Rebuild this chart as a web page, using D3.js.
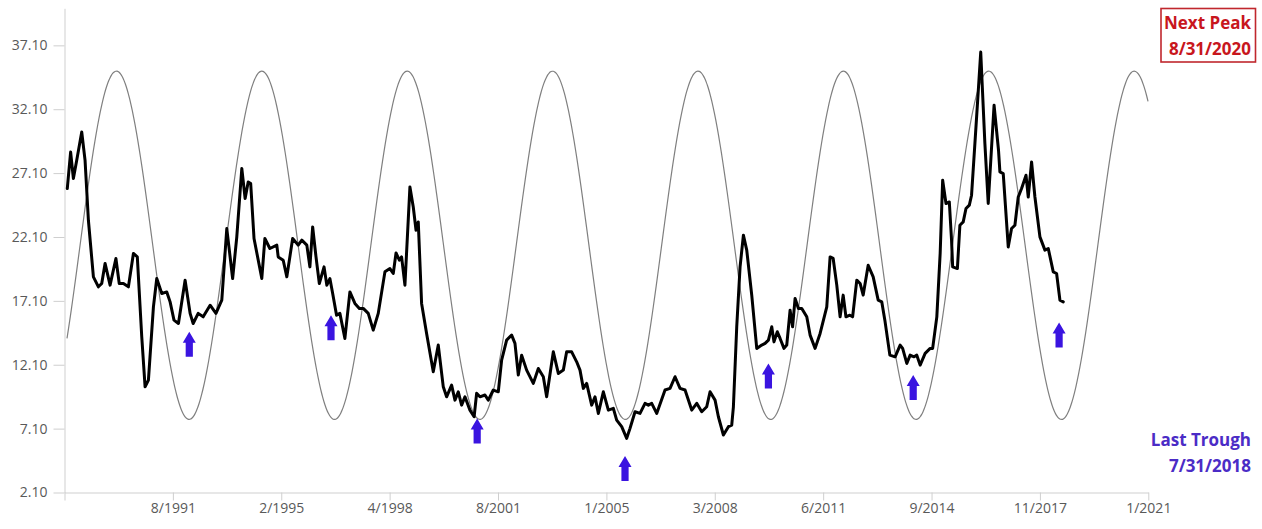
<!DOCTYPE html>
<html>
<head>
<meta charset="utf-8">
<script src="https://cdn.jsdelivr.net/npm/d3@7/dist/d3.min.js"></script>
<style>
  html, body { margin: 0; padding: 0; background: #ffffff; }
  svg { display: block; }
  text { font-family: "Open Sans", "DejaVu Sans", sans-serif; }
</style>
</head>
<body>
<svg id="chart" width="1262" height="529"></svg>
<script>
// ---------------- DATA ----------------
// x positions are in months from the axis start (axis spans 0..390)
const xTickLabels = ["", "8/1991", "2/1995", "4/1998", "8/2001", "1/2005", "3/2008", "6/2011", "9/2014", "11/2017", "1/2021"];
const xTickPos = [0, 39, 78, 117, 156, 195, 234, 273, 312, 351, 390];
const yTickValues = [2.1, 7.1, 12.1, 17.1, 22.1, 27.1, 32.1, 37.1];

const seriesX = [
  1.0, 2.2, 3.2, 4.4, 6.2, 7.4, 8.6, 10.4, 12.2, 13.4, 14.6, 16.4, 18.5, 19.7, 21.2, 23.0, 24.8, 26.2, 27.8, 29.0,
  30.2, 32.0, 33.2, 35.0, 36.8, 38.0, 39.4, 41.0, 43.4, 45.2, 46.3, 48.1, 49.9, 52.4, 54.5, 56.6, 58.4, 60.5, 62.0, 63.8,
  65.0, 66.1, 67.0, 68.2, 71.0, 72.1, 73.9, 76.4, 76.9, 78.7, 80.0, 82.1, 84.1, 85.4, 87.2, 88.3, 89.3, 90.5, 91.7, 93.4,
  94.4, 95.5, 96.5, 97.9, 99.1, 100.9, 102.7, 104.5, 106.1, 107.5, 109.3, 111.1, 112.9, 115.3, 117.1, 118.3, 119.3, 120.5, 121.3, 122.5,
  124.3, 125.5, 126.5, 127.3, 128.5, 130.3, 132.7, 134.5, 136.3, 137.5, 139.3, 140.5, 141.7, 142.9, 144.1, 145.9, 147.4, 148.3, 149.5, 151.3,
  152.5, 154.3, 156.1, 157.3, 159.1, 160.9, 162.1, 163.3, 164.5, 166.3, 168.7, 170.5, 172.3, 173.5, 175.9, 177.7, 179.5, 180.7, 182.5, 184.3,
  185.5, 186.7, 187.9, 189.7, 190.9, 192.1, 193.9, 195.7, 197.5, 198.7, 200.5, 202.3, 203.5, 205.3, 207.1, 208.9, 210.1, 211.3, 213.1, 216.1,
  217.9, 219.7, 221.5, 223.3, 225.7, 227.5, 229.3, 231.1, 232.3, 234.1, 235.3, 237.1, 238.9, 240.1, 240.7, 241.9, 243.1, 244.3, 245.5, 247.3,
  249.1, 250.9, 252.1, 253.3, 254.5, 255.3, 256.5, 257.5, 258.9, 259.9, 261.1, 262.0, 262.9, 264.1, 265.3, 267.1, 268.3, 270.1, 271.9, 274.3,
  275.5, 276.6, 277.9, 279.1, 280.2, 281.2, 282.6, 283.6, 285.1, 286.3, 287.4, 289.2, 291.0, 292.8, 294.1, 295.2, 297.0, 298.9, 300.7, 301.6,
  303.1, 304.3, 305.7, 306.7, 307.9, 309.7, 311.5, 312.4, 313.9, 315.1, 316.0, 317.2, 318.4, 319.2, 319.6, 321.3, 322.2, 323.4, 324.4, 325.6,
  326.4, 327.6, 328.6, 329.7, 331.2, 332.4, 334.5, 336.1, 336.6, 337.8, 339.6, 340.8, 342.0, 343.2, 344.4, 346.0, 346.8, 348.0, 349.2, 351.0,
  352.8, 354.0, 355.8, 357.0, 358.2, 359.4
];
const seriesValues = [
  25.89, 28.75, 26.67, 28.10, 30.32, 28.10, 23.41, 18.98, 18.20, 18.46, 20.03, 18.33, 20.42, 18.46, 18.46, 18.20, 20.81, 20.54, 14.29, 10.37,
  10.90, 16.63, 18.85, 17.68, 17.80, 17.02, 15.59, 15.33, 18.72, 16.12, 15.33, 16.12, 15.85, 16.76, 16.12, 17.16, 22.76, 18.85, 22.11, 27.46,
  25.11, 26.41, 26.28, 21.98, 18.85, 21.98, 21.20, 21.46, 20.54, 20.28, 18.98, 21.98, 21.46, 21.85, 21.46, 19.76, 22.89, 20.54, 18.46, 19.76,
  18.33, 18.85, 17.68, 15.98, 16.12, 14.16, 17.80, 16.90, 16.51, 16.51, 16.12, 14.81, 16.12, 19.37, 19.63, 19.24, 20.85, 20.28, 20.54, 18.33,
  26.02, 24.45, 22.63, 23.28, 16.90, 14.55, 11.55, 13.64, 10.37, 9.59, 10.51, 9.33, 9.98, 8.94, 9.59, 8.55, 8.03, 9.86, 9.59, 9.73,
  9.33, 10.12, 9.98, 12.46, 14.03, 14.42, 13.77, 11.29, 12.85, 11.68, 10.64, 11.81, 11.16, 9.59, 13.11, 11.42, 11.68, 13.11, 13.11, 12.33,
  11.68, 10.25, 10.64, 8.94, 9.59, 8.29, 9.98, 8.55, 8.69, 7.77, 7.25, 6.34, 7.12, 8.42, 8.29, 9.08, 8.94, 9.08, 8.29, 10.12,
  10.25, 11.16, 10.25, 10.12, 8.55, 9.08, 8.42, 8.81, 9.98, 9.33, 8.03, 6.60, 7.25, 7.38, 8.81, 15.07, 19.76, 22.24, 21.07, 17.55,
  13.38, 13.64, 13.77, 14.03, 15.07, 13.89, 14.68, 14.16, 13.38, 13.64, 16.37, 15.07, 17.29, 16.51, 16.51, 15.85, 14.42, 13.38, 14.55, 16.63,
  20.54, 20.42, 18.33, 15.85, 17.55, 15.85, 15.98, 15.85, 18.72, 18.46, 17.55, 19.89, 18.98, 17.16, 17.02, 15.59, 12.85, 12.72, 13.64, 13.38,
  12.20, 12.85, 12.72, 12.85, 12.07, 12.99, 13.38, 13.38, 15.85, 20.81, 26.54, 24.72, 24.84, 21.85, 19.76, 19.63, 23.02, 23.28, 24.33, 24.59,
  25.37, 29.41, 32.80, 36.58, 29.41, 24.72, 32.41, 28.89, 27.19, 27.06, 21.32, 22.76, 23.02, 25.23, 25.89, 26.93, 25.23, 27.97, 25.23, 22.11,
  21.07, 21.20, 19.37, 19.24, 17.16, 17.02
];

// cycle (thin grey) curve parameters
const cycleMid = 21.45;
const cycleAmp = 13.63;
const cyclePeriod = 52.32;      // months
const cyclePeakAt = 18.68;      // month of first peak
const cycleStart = 0.9;
const cycleEnd = 390;

// trough markers (blue arrows): x position and value at arrow tip
const arrowX = [44.9, 95.9, 148.5, 201.7, 253.3, 305.4, 357.9];
const arrowTop = [14.68, 15.98, 7.90, 4.95, 12.20, 11.29, 15.41];

const nextPeakLines = ["Next Peak", "8/31/2020"];
const lastTroughLines = ["Last Trough", "7/31/2018"];

// ---------------- CHART ----------------
const svg = d3.select("#chart");
const x = d3.scaleLinear().domain([0, 390]).range([64.5, 1148.3]);
const y = d3.scaleLinear().domain([2.1, 40]).range([492.5, 8.3]);

const axisColor = "#cfcfcf";
const labelColor = "#595959";

// Y axis
const yAxis = svg.append("g")
  .attr("transform", "translate(64.5,0)")
  .call(d3.axisLeft(y).tickValues(yTickValues).tickFormat(d3.format(".2f"))
    .tickSize(11).tickSizeOuter(0).tickPadding(6));
yAxis.select(".domain").attr("stroke", axisColor);
yAxis.selectAll(".tick line").attr("stroke", axisColor);
yAxis.selectAll(".tick text").attr("fill", labelColor).style("font-size", "14px")
  .style("font-family", "'Open Sans', sans-serif");

// X axis
const xAxis = svg.append("g")
  .attr("transform", "translate(0,492.5)")
  .call(d3.axisBottom(x).tickValues(xTickPos)
    .tickFormat((d, i) => xTickLabels[i])
    .tickSize(8).tickSizeOuter(0).tickPadding(3));
xAxis.select(".domain").attr("stroke", axisColor);
xAxis.selectAll(".tick line").attr("stroke", axisColor);
xAxis.selectAll(".tick text").attr("fill", labelColor).style("font-size", "14px")
  .style("font-family", "'Open Sans', sans-serif");

// cycle curve
const cyclePts = d3.range(cycleStart, cycleEnd + 0.001, 0.5).map(t =>
  [t, cycleMid + cycleAmp * Math.cos(2 * Math.PI * (t - cyclePeakAt) / cyclePeriod)]);
svg.append("path")
  .datum(cyclePts)
  .attr("fill", "none")
  .attr("stroke", "#7f7f7f")
  .attr("stroke-width", 1.2)
  .attr("d", d3.line().x(d => x(d[0])).y(d => y(d[1])).curve(d3.curveMonotoneX));

// main series
const series = seriesX.map((t, i) => [t, seriesValues[i]]);
svg.append("path")
  .datum(series)
  .attr("fill", "none")
  .attr("stroke", "#000000")
  .attr("stroke-width", 3)
  .attr("stroke-linejoin", "round")
  .attr("stroke-linecap", "round")
  .attr("d", d3.line().x(d => x(d[0])).y(d => y(d[1])));

// arrows
const arrowPath = "M0,0 L6.5,11 L3.6,11 L3.6,25 L-3.6,25 L-3.6,11 L-6.5,11 Z";
svg.append("g").selectAll("path")
  .data(arrowX.map((t, i) => [t, arrowTop[i]]))
  .join("path")
  .attr("transform", d => `translate(${x(d[0])},${y(d[1])})`)
  .attr("d", arrowPath)
  .attr("fill", "#3a14e0");

// Next peak box
svg.append("rect")
  .attr("x", 1161).attr("y", 8.5).attr("width", 94.5).attr("height", 53.5)
  .attr("fill", "none").attr("stroke", "#c0272d").attr("stroke-width", 1.6);
svg.append("g").selectAll("text")
  .data(nextPeakLines)
  .join("text")
  .attr("x", 1251).attr("y", (d, i) => 28.5 + i * 26.5)
  .attr("text-anchor", "end")
  .attr("fill", "#c8161d")
  .style("font-size", "17px").style("font-weight", "bold")
  .text(d => d);

// Last trough text
svg.append("g").selectAll("text")
  .data(lastTroughLines)
  .join("text")
  .attr("x", 1251).attr("y", (d, i) => 446 + i * 25.7)
  .attr("text-anchor", "end")
  .attr("fill", "#4b2cc6")
  .style("font-size", "17px").style("font-weight", "bold")
  .text(d => d);
</script>
</body>
</html>
